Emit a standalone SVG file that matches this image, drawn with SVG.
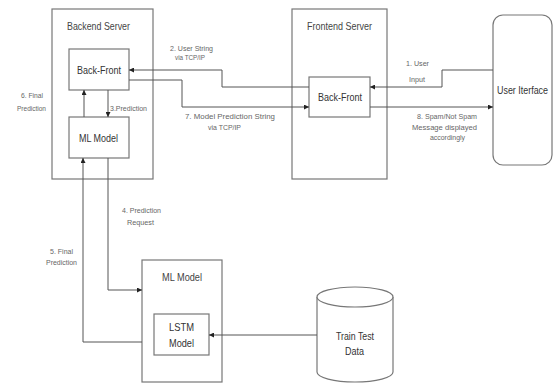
<svg xmlns="http://www.w3.org/2000/svg" width="553" height="385" viewBox="0 0 553 385">
  <defs>
    <marker id="arr" viewBox="0 0 6 6" refX="6" refY="3" markerWidth="5" markerHeight="5" orient="auto" markerUnits="userSpaceOnUse">
      <path d="M0,0 L6,3 L0,6 Z" fill="#222"/>
    </marker>
    <style>
      .box { fill: #fff; stroke: #777; stroke-width: 1.2; }
      .line { fill: none; stroke: #555; stroke-width: 1; marker-end: url(#arr); }
      .title { font-family: "Liberation Sans", Arial, sans-serif; font-size: 11px; fill: #444; }
      .node { font-family: "Liberation Sans", Arial, sans-serif; font-size: 11.5px; fill: #333; }
      .lbl { font-family: "Liberation Sans", Arial, sans-serif; font-size: 8px; fill: #666; }
    </style>
  </defs>
  <rect width="553" height="385" fill="#fff"/>

  <!-- Backend server container -->
  <g id="backend-server">
    <rect class="box" x="52" y="9" width="101" height="170"/>
    <text class="title" x="67" y="30" textLength="63" lengthAdjust="spacingAndGlyphs">Backend Server</text>
  </g>
  <g id="backend-backfront">
    <rect class="box" x="69" y="49" width="60" height="41"/>
    <text class="node" x="77" y="74" textLength="44" lengthAdjust="spacingAndGlyphs">Back-Front</text>
  </g>
  <g id="backend-mlmodel">
    <rect class="box" x="69" y="117" width="60" height="41"/>
    <text class="node" x="79" y="142" textLength="39" lengthAdjust="spacingAndGlyphs">ML Model</text>
  </g>

  <!-- Frontend server container -->
  <g id="frontend-server">
    <rect class="box" x="292" y="9" width="95" height="170"/>
    <text class="title" x="307" y="30" textLength="65" lengthAdjust="spacingAndGlyphs">Frontend Server</text>
  </g>
  <g id="frontend-backfront">
    <rect class="box" x="309" y="77" width="61" height="40"/>
    <text class="node" x="318" y="101" textLength="44" lengthAdjust="spacingAndGlyphs">Back-Front</text>
  </g>

  <!-- User interface -->
  <g id="user-interface">
    <rect class="box" x="493" y="15" width="59" height="150" rx="10" ry="10"/>
    <text class="node" x="497" y="94" style="font-size:10px" textLength="51" lengthAdjust="spacingAndGlyphs">User Iterface</text>
  </g>

  <!-- ML model service -->
  <g id="ml-model">
    <rect class="box" x="142" y="260" width="80" height="122"/>
    <text class="title" x="162" y="281" textLength="40" lengthAdjust="spacingAndGlyphs">ML Model</text>
  </g>
  <g id="lstm-model">
    <rect class="box" x="154" y="314" width="55" height="41"/>
    <text class="node" x="169" y="331" textLength="25" lengthAdjust="spacingAndGlyphs">LSTM</text>
    <text class="node" x="169" y="347" textLength="25" lengthAdjust="spacingAndGlyphs">Model</text>
  </g>

  <!-- Train/test data store -->
  <g id="train-test-data">
    <path class="box" d="M317,297 L317,372 A38,10 0 0 0 393,372 L393,297"/>
    <ellipse class="box" cx="355" cy="297" rx="38" ry="10"/>
    <text class="node" x="336" y="340" textLength="38" lengthAdjust="spacingAndGlyphs">Train Test</text>
    <text class="node" x="345" y="355" textLength="19" lengthAdjust="spacingAndGlyphs">Data</text>
  </g>

  <!-- Connectors -->
  <g id="connectors">
    <!-- 1. User input -->
    <path class="line" d="M493,70 L442,70 L442,87 L370,87"/>
    <!-- 2. User string to backend -->
    <path class="line" d="M309,87 L222,87 L222,70 L129,70"/>
    <!-- 3. Prediction -->
    <path class="line" d="M108,90 L108,117"/>
    <!-- 6. Final prediction -->
    <path class="line" d="M84,117 L84,90"/>
    <!-- 7. Model prediction string -->
    <path class="line" d="M129,80 L182,80 L182,107 L309,107"/>
    <!-- 8. Result to UI -->
    <path class="line" d="M370,107 L493,107"/>
    <!-- 4. Prediction request -->
    <path class="line" d="M108,158 L108,290 L142,290"/>
    <!-- 5. Final prediction back -->
    <path class="line" d="M142,342 L83,342 L83,158"/>
    <!-- Training data -->
    <path class="line" d="M317,335 L209,335"/>
  </g>

  <!-- Connector labels -->
  <g id="labels">
    <text class="lbl" x="170" y="51" textLength="43" lengthAdjust="spacingAndGlyphs">2. User String</text>
    <text class="lbl" x="175" y="60" textLength="30" lengthAdjust="spacingAndGlyphs">via TCP/IP</text>
    <text class="lbl" x="110" y="111" textLength="37" lengthAdjust="spacingAndGlyphs">3.Prediction</text>
    <text class="lbl" x="21" y="98" textLength="22" lengthAdjust="spacingAndGlyphs">6. Final</text>
    <text class="lbl" x="17" y="111" textLength="29" lengthAdjust="spacingAndGlyphs">Prediction</text>
    <text class="lbl" x="185" y="119" textLength="90" lengthAdjust="spacingAndGlyphs">7. Model Prediction String</text>
    <text class="lbl" x="208" y="130" textLength="33" lengthAdjust="spacingAndGlyphs">via TCP/IP</text>
    <text class="lbl" x="406" y="66" textLength="23" lengthAdjust="spacingAndGlyphs">1. User</text>
    <text class="lbl" x="409" y="82" textLength="16" lengthAdjust="spacingAndGlyphs">Input</text>
    <text class="lbl" x="417" y="119" textLength="60" lengthAdjust="spacingAndGlyphs">8. Spam/Not Spam</text>
    <text class="lbl" x="412" y="130" textLength="65" lengthAdjust="spacingAndGlyphs">Message displayed</text>
    <text class="lbl" x="430" y="140" textLength="35" lengthAdjust="spacingAndGlyphs">accordingly</text>
    <text class="lbl" x="122" y="213" textLength="39" lengthAdjust="spacingAndGlyphs">4. Prediction</text>
    <text class="lbl" x="127" y="225" textLength="27" lengthAdjust="spacingAndGlyphs">Request</text>
    <text class="lbl" x="50" y="254" textLength="23" lengthAdjust="spacingAndGlyphs">5. Final</text>
    <text class="lbl" x="46" y="265" textLength="31" lengthAdjust="spacingAndGlyphs">Prediction</text>
  </g>
</svg>
